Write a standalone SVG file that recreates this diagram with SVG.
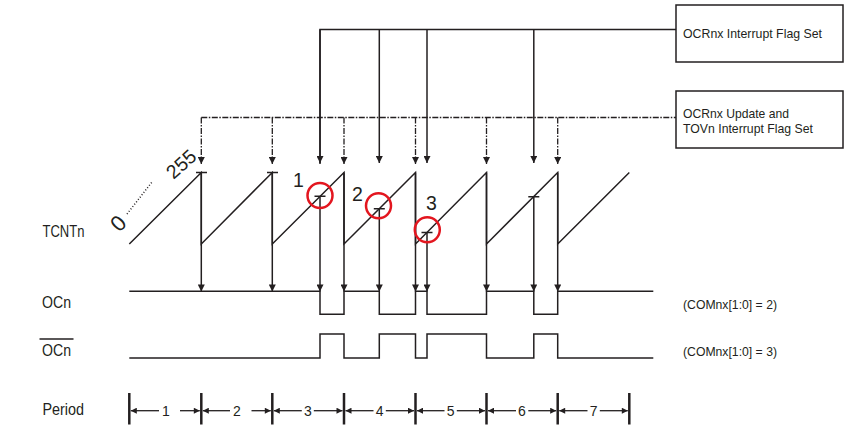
<svg xmlns="http://www.w3.org/2000/svg" width="858" height="439" viewBox="0 0 858 439">
<style>
.ln{stroke:#231f20;stroke-width:1.5;fill:none}
.dd{stroke:#231f20;stroke-width:1.3;fill:none;stroke-dasharray:6 1.5 1.5 1.5}
.bar{stroke:#231f20;stroke-width:2.5}
.t{font-family:"Liberation Sans",Arial,sans-serif;fill:#231f20}
.lbl{font-size:16px}
.box{font-size:13.5px}
.num{font-size:14px;text-anchor:middle}
.big{font-size:19.5px}
.circ{fill:none;stroke:#e3161f;stroke-width:2.5}
</style>
<defs>
<marker id="ah" viewBox="0 0 10 10" refX="10" refY="5" markerWidth="10" markerHeight="7" markerUnits="userSpaceOnUse" orient="auto">
<path d="M0,0 L10,5 L0,10 z" fill="#231f20"/>
</marker>
<marker id="ap" viewBox="0 0 10 10" refX="10" refY="5" markerWidth="9" markerHeight="6" markerUnits="userSpaceOnUse" orient="auto">
<path d="M0,0 L10,5 L0,10 z" fill="#231f20"/>
</marker>
</defs>
<rect width="858" height="439" fill="#fff"/>

<g id="box-ocf">
<rect x="676" y="5" width="167" height="57" fill="#fff" stroke="#231f20" stroke-width="1.5"/>
<text class="t box" x="683" y="38" textLength="139" lengthAdjust="spacingAndGlyphs">OCRnx Interrupt Flag Set</text>
</g>
<g id="box-tov">
<rect x="676" y="91" width="167" height="57" fill="#fff" stroke="#231f20" stroke-width="1.5"/>
<text class="t box" x="683" y="117.5" textLength="106" lengthAdjust="spacingAndGlyphs">OCRnx Update and</text>
<text class="t box" x="683" y="133" textLength="130" lengthAdjust="spacingAndGlyphs">TOVn Interrupt Flag Set</text>
</g>

<g id="labels">
<text class="t lbl" x="42.5" y="237" textLength="42" lengthAdjust="spacingAndGlyphs">TCNTn</text>
<text class="t lbl" x="42" y="308" textLength="29" lengthAdjust="spacingAndGlyphs">OCn</text>
<text class="t lbl" x="42" y="355.5" textLength="29" lengthAdjust="spacingAndGlyphs">OCn</text>
<line x1="39.5" y1="339" x2="73.5" y2="339" stroke="#231f20" stroke-width="1.3"/>
<text class="t lbl" x="42.5" y="415" textLength="41.5" lengthAdjust="spacingAndGlyphs">Period</text>
<text class="t box" x="683" y="309" textLength="94" lengthAdjust="spacingAndGlyphs">(COMnx[1:0] = 2)</text>
<text class="t box" x="683" y="356" textLength="94" lengthAdjust="spacingAndGlyphs">(COMnx[1:0] = 3)</text>
<text class="t" font-size="22" transform="translate(118,223) rotate(-45)" text-anchor="middle" y="8">0</text>
<line x1="127" y1="214" x2="152" y2="182" stroke="#231f20" stroke-width="1.5" stroke-dasharray="1 2"/>
<text class="t" font-size="19.5" transform="translate(181,164) rotate(-42)" text-anchor="middle" y="7">255</text>
<text class="t big" x="293" y="187">1</text>
<text class="t big" x="352" y="201">2</text>
<text class="t big" x="426" y="210">3</text>
</g>

<g id="connectors">
<polyline class="ln" points="320,164 320,29.5 676,29.5"/>
<line class="ln" x1="379.3" y1="29.5" x2="379.3" y2="163" marker-end="url(#ah)"/>
<line class="ln" x1="427" y1="29.5" x2="427" y2="163" marker-end="url(#ah)"/>
<line class="ln" x1="533.8" y1="29.5" x2="533.8" y2="163" marker-end="url(#ah)"/>
<line class="ln" x1="320" y1="29.5" x2="320" y2="163" marker-end="url(#ah)"/>
<line class="dd" x1="201.3" y1="117.5" x2="676" y2="117.5"/>
<line class="dd" x1="201.3" y1="117.5" x2="201.3" y2="164" marker-end="url(#ah)"/>
<line class="dd" x1="272.3" y1="117.5" x2="272.3" y2="164" marker-end="url(#ah)"/>
<line class="dd" x1="344" y1="117.5" x2="344" y2="164" marker-end="url(#ah)"/>
<line class="dd" x1="415.5" y1="117.5" x2="415.5" y2="164" marker-end="url(#ah)"/>
<line class="dd" x1="486.5" y1="117.5" x2="486.5" y2="164" marker-end="url(#ah)"/>
<line class="dd" x1="557.7" y1="117.5" x2="557.7" y2="164" marker-end="url(#ah)"/>

<line class="ln" x1="201.3" y1="172.5" x2="201.3" y2="291.5" marker-end="url(#ah)"/>
<line class="ln" x1="272.3" y1="172.5" x2="272.3" y2="291.5" marker-end="url(#ah)"/>
<line class="ln" x1="320" y1="196.3" x2="320" y2="291.5" marker-end="url(#ah)"/>
<line class="ln" x1="344" y1="172.5" x2="344" y2="291.5" marker-end="url(#ah)"/>
<line class="ln" x1="379.3" y1="208.7" x2="379.3" y2="291.5" marker-end="url(#ah)"/>
<line class="ln" x1="415.5" y1="172.5" x2="415.5" y2="291.5" marker-end="url(#ah)"/>
<line class="ln" x1="427" y1="232.5" x2="427" y2="291.5" marker-end="url(#ah)"/>
<line class="ln" x1="486.5" y1="172.5" x2="486.5" y2="291.5" marker-end="url(#ah)"/>
<line class="ln" x1="533.8" y1="196.7" x2="533.8" y2="291.5" marker-end="url(#ah)"/>
<line class="ln" x1="557.7" y1="172.5" x2="557.7" y2="291.5" marker-end="url(#ah)"/>
</g>

<g id="tcnt">
<path class="ln" d="M129.3,244 L201.3,172.5 V244 L272.3,172.5 V244 L344,172.5 V244 L415.5,172.5 V244 L486.5,172.5 V244 L557.7,172.5 V244 L629.3,172.5"/>
<path class="ln" d="M196,172.5 H207 M267,172.5 H278 M314.5,196.3 H325.5 M373.8,208.7 H384.8 M421.5,232.5 H432.5 M528.3,196.7 H539.3"/>
<circle class="circ" cx="320" cy="195.5" r="12.5"/>
<circle class="circ" cx="378.5" cy="205.7" r="12.5"/>
<circle class="circ" cx="427.3" cy="229.7" r="12.5"/>
</g>

<g id="ocn">
<path class="ln" d="M129.3,291.3 H320 V314.3 H344 V291.3 H379.3 V314.3 H415.5 V291.3 H427 V314.3 H486.5 V291.3 H533.8 V314.3 H557.7 V291.3 H653.3"/>
</g>
<g id="ocn-bar">
<path class="ln" d="M129.3,358 H320 V334 H344 V358 H379.3 V334 H415.5 V358 H427 V334 H486.5 V358 H533.8 V334 H557.7 V358 H653.3"/>
</g>

<g id="period">
<g class="bar">
<line x1="129.3" y1="393" x2="129.3" y2="424.5"/>
<line x1="201.3" y1="393" x2="201.3" y2="424.5"/>
<line x1="272.3" y1="393" x2="272.3" y2="424.5"/>
<line x1="344" y1="393" x2="344" y2="424.5"/>
<line x1="415.5" y1="393" x2="415.5" y2="424.5"/>
<line x1="486.5" y1="393" x2="486.5" y2="424.5"/>
<line x1="557.7" y1="393" x2="557.7" y2="424.5"/>
<line x1="629.3" y1="393" x2="629.3" y2="424.5"/>
</g>
<g stroke="#231f20" stroke-width="1.3">
<line x1="159" y1="410.7" x2="130.8" y2="410.7" marker-end="url(#ap)"/>
<line x1="180" y1="410.7" x2="199.8" y2="410.7" marker-end="url(#ap)"/>
<line x1="230" y1="410.7" x2="202.8" y2="410.7" marker-end="url(#ap)"/>
<line x1="251.5" y1="410.7" x2="270.8" y2="410.7" marker-end="url(#ap)"/>
<line x1="301.8" y1="410.7" x2="273.8" y2="410.7" marker-end="url(#ap)"/>
<line x1="313.8" y1="410.7" x2="342.5" y2="410.7" marker-end="url(#ap)"/>
<line x1="373.5" y1="410.7" x2="345.5" y2="410.7" marker-end="url(#ap)"/>
<line x1="385.8" y1="410.7" x2="414" y2="410.7" marker-end="url(#ap)"/>
<line x1="444.5" y1="410.7" x2="417" y2="410.7" marker-end="url(#ap)"/>
<line x1="456.8" y1="410.7" x2="485" y2="410.7" marker-end="url(#ap)"/>
<line x1="516" y1="410.7" x2="488" y2="410.7" marker-end="url(#ap)"/>
<line x1="528.3" y1="410.7" x2="556.2" y2="410.7" marker-end="url(#ap)"/>
<line x1="587.5" y1="410.7" x2="559.2" y2="410.7" marker-end="url(#ap)"/>
<line x1="599.8" y1="410.7" x2="627.8" y2="410.7" marker-end="url(#ap)"/>
</g>
<text class="t num" x="166" y="415.5">1</text>
<text class="t num" x="237" y="415.5">2</text>
<text class="t num" x="308" y="415.5">3</text>
<text class="t num" x="379.7" y="415.5">4</text>
<text class="t num" x="450.7" y="415.5">5</text>
<text class="t num" x="522" y="415.5">6</text>
<text class="t num" x="593.7" y="415.5">7</text>
</g>
</svg>
